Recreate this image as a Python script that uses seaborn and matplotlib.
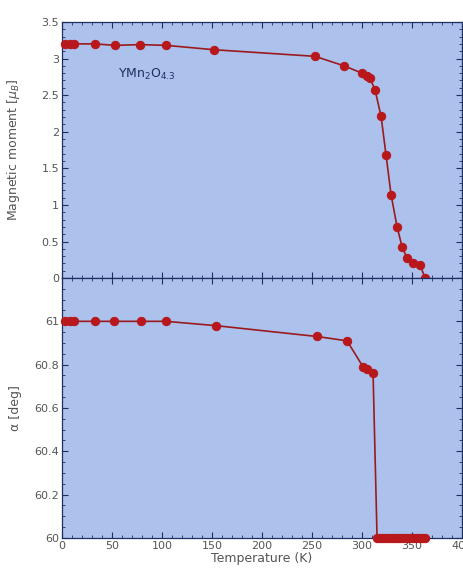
import numpy as np
import pandas as pd
import matplotlib
matplotlib.use("Agg")
import matplotlib.pyplot as plt
import seaborn as sns
from matplotlib.ticker import MultipleLocator

# datos
temp_mag = [3, 8, 12, 33, 53, 78, 104, 152, 253, 282, 300, 305, 308, 313, 319, 324, 329, 335, 340, 345, 351, 358, 363]
momento = [3.2, 3.2, 3.2, 3.2, 3.18, 3.19, 3.18, 3.12, 3.03, 2.90, 2.80, 2.76, 2.73, 2.57, 2.21, 1.68, 1.14, 0.70, 0.43, 0.27, 0.21, 0.18, 0.0]

temp_alfa = [3, 8, 12, 33, 52, 79, 104, 154, 255, 285, 301, 305, 311, 315, 318, 321, 324, 327, 330, 333, 336, 339, 342, 345, 348, 351, 354, 357, 360, 363]
alfa = [61.0, 61.0, 61.0, 61.0, 61.0, 61.0, 61.0, 60.98, 60.93, 60.91, 60.79, 60.78, 60.76,
        60.0, 60.0, 60.0, 60.0, 60.0, 60.0, 60.0, 60.0, 60.0, 60.0, 60.0, 60.0, 60.0, 60.0, 60.0, 60.0, 60.0]

df_mag = pd.DataFrame({'T': temp_mag, 'M': momento})
df_alfa = pd.DataFrame({'T': temp_alfa, 'a': alfa})

sns.set_style('ticks')
plt.rcParams['font.family'] = ['Liberation Sans Narrow', 'DejaVu Sans']

fondo = '#adc1ed'
rojo = '#b8181c'
linea = '#9a1a1e'
azul = '#1c2f5e'
gris = '#555555'

fig = plt.figure(figsize=(4.63, 5.77), dpi=100)
ax1 = fig.add_axes([0.134, 0.518, 0.864, 0.444])
ax2 = fig.add_axes([0.134, 0.0676, 0.864, 0.4506])

sns.lineplot(data=df_mag, x='T', y='M', ax=ax1, sort=False, color=linea, lw=1.2,
             marker='o', markersize=6, markerfacecolor=rojo, markeredgecolor=rojo,
             clip_on=False, zorder=5)
sns.lineplot(data=df_alfa, x='T', y='a', ax=ax2, sort=False, color=linea, lw=1.2,
             marker='o', markersize=6, markerfacecolor=rojo, markeredgecolor=rojo,
             clip_on=False, zorder=5)

ax1.set_xlim(0, 400)
ax1.set_ylim(0, 3.5)
ax2.set_xlim(0, 400)
ax2.set_ylim(60, 61.2)

ax1.yaxis.set_minor_locator(MultipleLocator(0.1))
ax2.yaxis.set_minor_locator(MultipleLocator(0.05))
ax1.set_yticks([0, 0.5, 1, 1.5, 2, 2.5, 3, 3.5])
ax1.set_yticklabels(['0', '0.5', '1', '1.5', '2', '2.5', '3', '3.5'])
ax2.set_yticks([60, 60.2, 60.4, 60.6, 60.8, 61])
ax2.set_yticklabels(['60', '60.2', '60.4', '60.6', '60.8', '61'])

for ax in (ax1, ax2):
    ax.set_facecolor(fondo)
    ax.xaxis.set_major_locator(MultipleLocator(50))
    ax.xaxis.set_minor_locator(MultipleLocator(10))
    ax.tick_params(which='both', direction='in', top=True, right=True, color=azul,
                   labelsize=8, labelcolor=gris, pad=2)
    ax.tick_params(which='major', length=4, width=0.8)
    ax.tick_params(which='minor', length=2, width=0.6)
    for s in ax.spines.values():
        s.set_color(azul)
        s.set_linewidth(0.9)

ax1.tick_params(labelbottom=False)
ax1.set_xlabel('')
ax1.set_ylabel('Magnetic moment [$\\mu_B$]', fontsize=9, color=gris)
ax2.set_ylabel('α [deg]', fontsize=9, color=gris)
ax2.set_xlabel('Temperature (K)', fontsize=9, color=gris, labelpad=1)
ax1.yaxis.set_label_coords(-0.1, 0.5)
ax2.yaxis.set_label_coords(-0.1, 0.5)

ax1.text(0.14, 0.78, 'YMn$_2$O$_{4.3}$', transform=ax1.transAxes, fontsize=9, color=azul)

fig.savefig('out.png', dpi=100)
